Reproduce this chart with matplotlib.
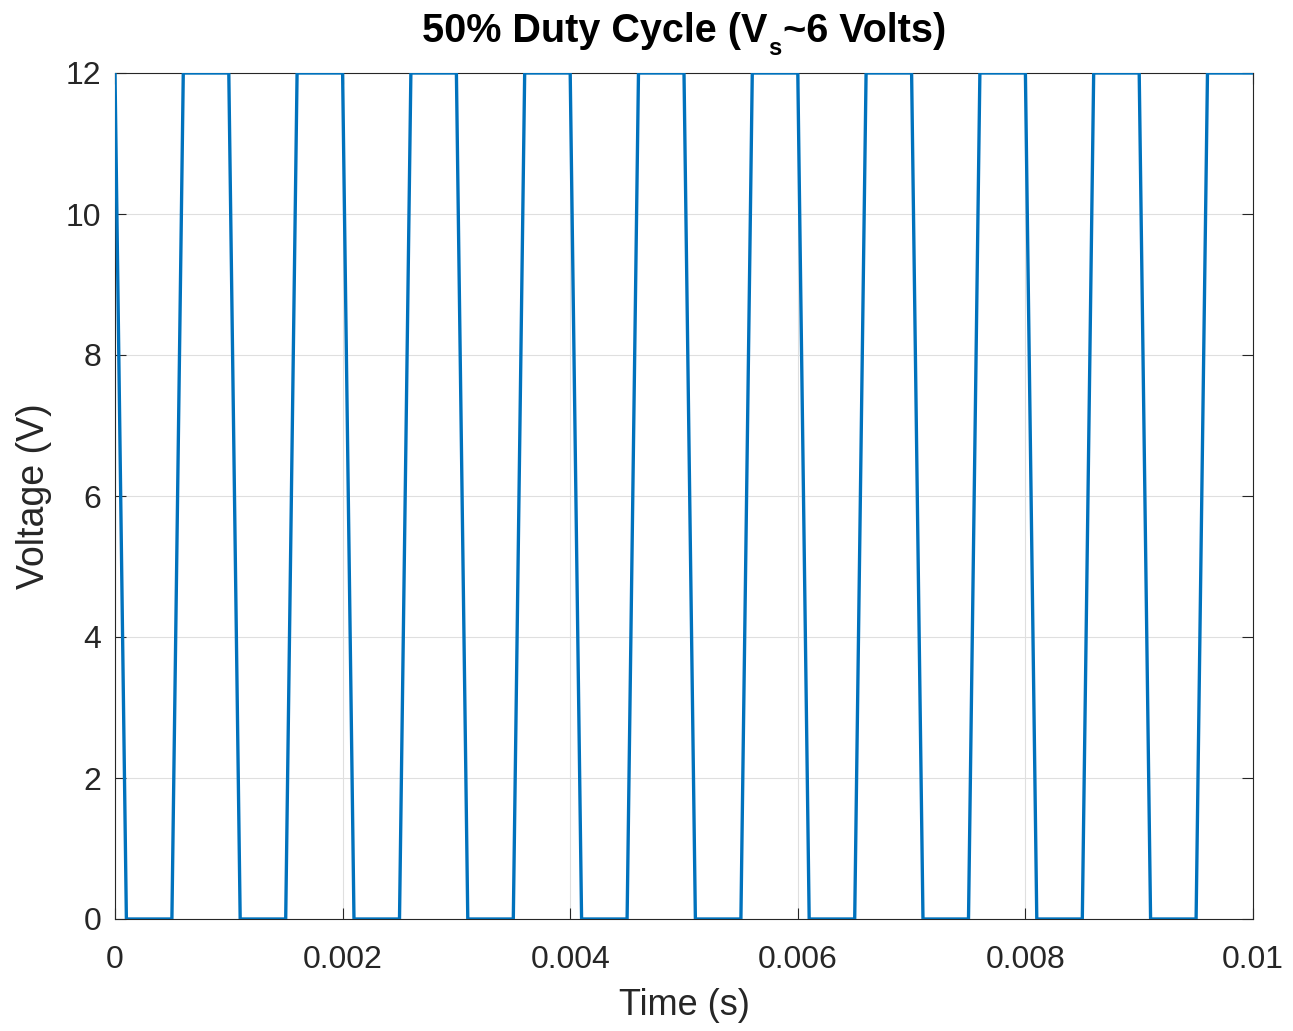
import matplotlib
matplotlib.use("Agg")
import matplotlib.pyplot as plt

# Sampled PWM waveform, 0.1 ms sample interval
time_s = [round(i * 0.0001, 4) for i in range(101)]
voltage_v = [
    12, 0, 0, 0, 0, 0, 12, 12, 12, 12,
    12, 0, 0, 0, 0, 0, 12, 12, 12, 12,
    12, 0, 0, 0, 0, 0, 12, 12, 12, 12,
    12, 0, 0, 0, 0, 0, 12, 12, 12, 12,
    12, 0, 0, 0, 0, 0, 12, 12, 12, 12,
    12, 0, 0, 0, 0, 0, 12, 12, 12, 12,
    12, 0, 0, 0, 0, 0, 12, 12, 12, 12,
    12, 0, 0, 0, 0, 0, 12, 12, 12, 12,
    12, 0, 0, 0, 0, 0, 12, 12, 12, 12,
    12, 0, 0, 0, 0, 0, 12, 12, 12, 12,
    12,
]
x_ticks = [0, 0.002, 0.004, 0.006, 0.008, 0.01]
x_tick_labels = ["0", "0.002", "0.004", "0.006", "0.008", "0.01"]
y_ticks = [0, 2, 4, 6, 8, 10, 12]
y_tick_labels = ["0", "2", "4", "6", "8", "10", "12"]
title_parts = ["50% Duty Cycle (V", "s", "~6 Volts)"]

plt.rcParams["font.family"] = ["Liberation Sans", "DejaVu Sans"]

W, H = 1293, 1031
fig = plt.figure(figsize=(W / 100, H / 100), dpi=100)
ax = fig.add_axes([115/W, 1 - 919/H, (1253-115)/W, (919-73)/H])

ax.plot(time_s, voltage_v, color="#0072BD", linewidth=2.4, zorder=3)

ax.set_xlim(0, 0.01)
ax.set_ylim(0, 12)
ax.set_xticks(x_ticks)
ax.set_xticklabels(x_tick_labels)
ax.set_yticks(y_ticks)
ax.set_yticklabels(y_tick_labels)
ax.tick_params(direction="in", length=8, width=0.8, labelsize=23, colors="#262626",
               top=True, right=True)
ax.tick_params(axis="x", pad=19)
ax.tick_params(axis="y", pad=10)
for s in ax.spines.values():
    s.set_color("#262626")
    s.set_linewidth(0.8)
ax.grid(True, color="#dfdfdf", linewidth=0.8)
ax.set_axisbelow(True)

ax.set_xlabel("Time (s)", fontsize=26, color="#262626", labelpad=9)
ax.set_ylabel("Voltage (V)", fontsize=27, color="#262626", labelpad=10)

# Title with MATLAB-style lowered subscript
fig.canvas.draw()
r = fig.canvas.get_renderer()
fs_main, fs_sub = 28.5, 17
base_y = 1 - 42/H
sub_y = 1 - 55/H
t1 = fig.text(0, base_y, title_parts[0], fontsize=fs_main, fontweight="bold", va="baseline")
t2 = fig.text(0, sub_y, title_parts[1], fontsize=fs_sub, fontweight="bold", va="baseline")
t3 = fig.text(0, base_y, title_parts[2], fontsize=fs_main, fontweight="bold", va="baseline")
w1 = t1.get_window_extent(r).width
w2 = t2.get_window_extent(r).width
w3 = t3.get_window_extent(r).width
total = w1 + w2 + w3
x0 = 683 - total / 2
t1.set_x(x0 / W)
t2.set_x((x0 + w1 + 1) / W)
t3.set_x((x0 + w1 + w2 + 2) / W)

fig.savefig("out.png", dpi=100)
